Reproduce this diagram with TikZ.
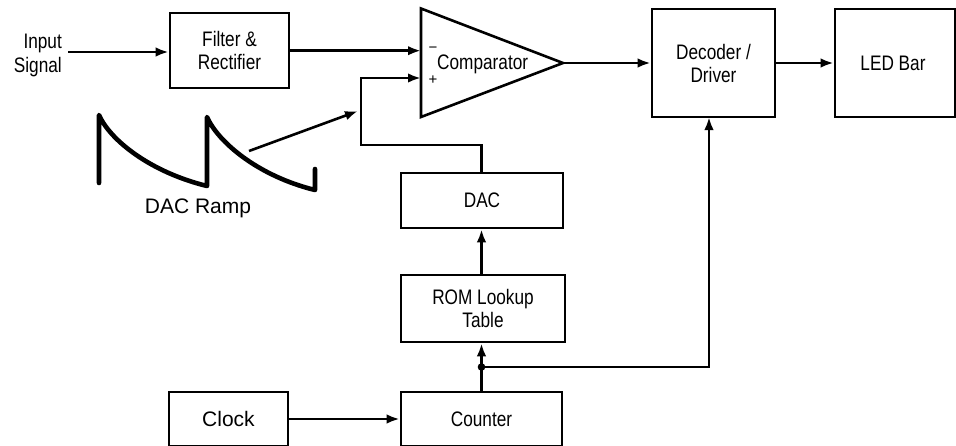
\documentclass[tikz,border=0pt]{standalone}
\usepackage{fontspec}
\setmainfont{Liberation Sans}
\newfontfamily\narrowfont[FakeStretch=0.82]{Liberation Sans}
\usetikzlibrary{arrows.meta}
\tikzset{
  blk/.style={draw, line width=2.6pt, rectangle, inner sep=0pt, align=center,
    font=\narrowfont\fontsize{21}{23}\selectfont},
  lbl/.style={inner sep=0pt, font=\narrowfont\fontsize{21}{24}\selectfont},
  sgn/.style={inner sep=0pt, font=\fontsize{15}{15}\selectfont},
  conn/.style={line width=2.6pt},
  arr/.style={conn, -{Latex[length=13pt,width=9.5pt]}},
  ramp/.style={line width=4.6pt, line cap=round, line join=round}
}
\begin{document}
\begin{tikzpicture}[x=1pt,y=-1pt]
\useasboundingbox (0,0) rectangle (956,445);
\clip (0,0) rectangle (956,445);
\fill[white] (0,0) rectangle (956,445);

% nodes
\node[lbl, align=right, anchor=east] (inp) at (62,55) {Input\\Signal};
\coordinate (inpend) at (68,52);
\node[blk, minimum width=119pt, minimum height=75pt] (filt) at (229.5,50.5) {Filter \&\\Rectifier};
\node[blk, minimum width=123pt, minimum height=108pt] (dec) at (713.5,63) {Decoder /\\Driver};
\node[blk, minimum width=120pt, minimum height=108pt] (led) at (895,63) {};
\node[lbl] (ledt) at (893,63) {LED Bar};
\node[blk, minimum width=162pt, minimum height=55pt] (dac) at (482,200.5) {DAC};
\node[blk, minimum width=164pt, minimum height=67pt] (rom) at (483,308.5) {ROM Lookup\\Table};
\node[blk, minimum width=161pt, minimum height=54pt] (cnt) at (481.5,419) {Counter};
\node[blk, minimum width=119pt, minimum height=54pt, font=\fontsize{21}{23}\selectfont] (clk) at (228.5,419) {Clock};

% comparator
\coordinate (ctop) at (421,8.5);
\coordinate (cbot) at (421,117);
\coordinate (ctip) at (563,63);
\coordinate (cm) at (421,50.7);
\coordinate (cp) at (421,78);
\draw[line width=2.6pt, line join=miter] (ctop) -- (cbot) -- (ctip) -- cycle;
\node[lbl, anchor=west] (comptext) at (437,64) {Comparator};
\node[sgn] (minus) at (433,50) {−};
\node[sgn] (plus) at (433,80) {+};

% connectors
\draw[arr] (inpend) -- (filt.west |- inpend);
\draw[arr] (filt.east |- cm) -- (cm);
\draw[arr] (ctip) -- (dec.west |- ctip);
\draw[arr] (dec.east |- ctip) -- (led.west |- ctip);

\coordinate (bend) at (361,145);
\draw[arr] (dac.north -| cnt.north) |- (bend) |- (cp);

\coordinate (j) at (481.5,367);
\draw[conn] (cnt.north) -- (j);
\draw[arr] (j) -- (j |- rom.south);
\draw[arr] (rom.north -| cnt.north) -- (dac.south -| cnt.north);
\coordinate (decin) at (709,117);
\draw[arr] (j) -| (decin);
\fill (j) circle (3.8pt);
\draw[arr] (clk.east) -- (cnt.west);

% DAC ramp
\draw[ramp] (99,183) -- (99,115) .. controls (110,140) and (150,172) .. (207,186)
  -- (207,117) .. controls (218,142) and (258,176) .. (315,190) -- (315,169);
\coordinate (rs) at (249,151);
\coordinate (re) at (358,111);
\draw[arr] (rs) -- (re);
\node[inner sep=0pt, font=\fontsize{21}{21}\selectfont] (ramplbl) at (198,208) {DAC Ramp};
\end{tikzpicture}
\end{document}
